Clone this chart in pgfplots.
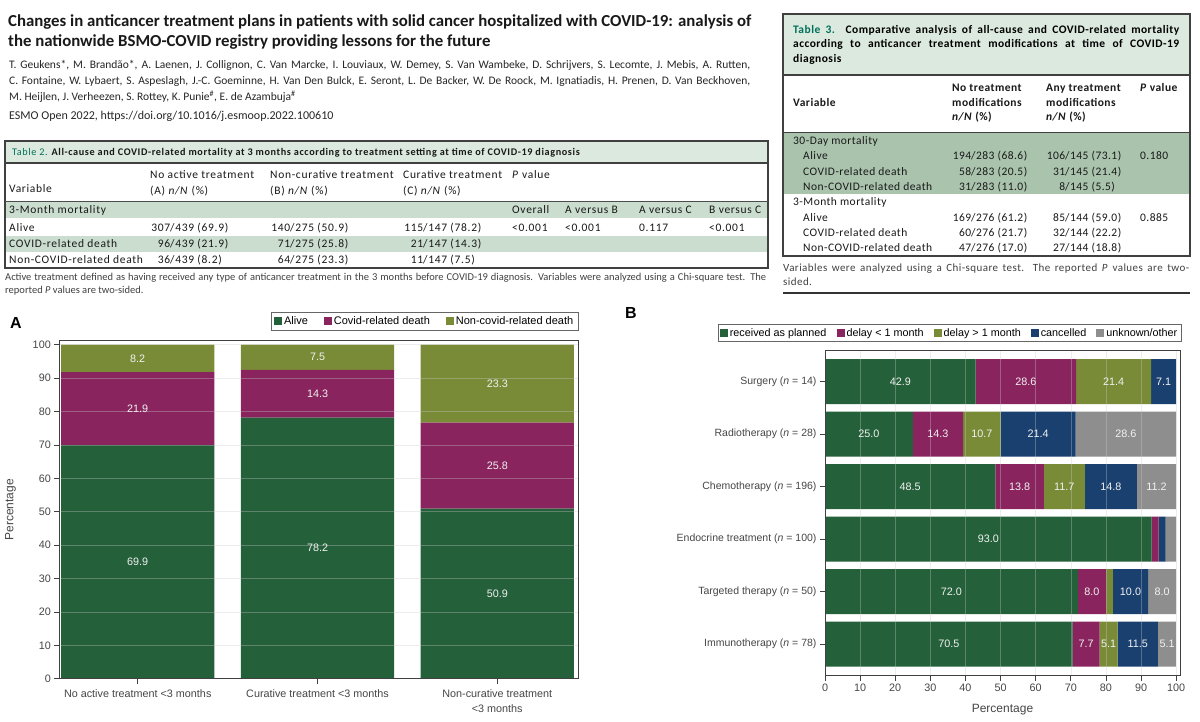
\documentclass[border=0pt]{standalone}
\usepackage{pgfplots}
\pgfplotsset{compat=1.18}
\usepackage{pgfplotstable}
\usepackage{fontspec}
\setmainfont{Carlito}
\newfontfamily\arial{Liberation Sans}
\newfontfamily\tabfont[LetterSpace=6]{Carlito}
\newfontfamily\tabfontb[LetterSpace=4]{Carlito}

\definecolor{cGreen}{RGB}{36,96,58}
\definecolor{cMaroon}{RGB}{137,36,94}
\definecolor{cOlive}{RGB}{122,139,56}
\definecolor{cNavy}{RGB}{26,64,112}
\definecolor{cGray}{RGB}{142,142,142}
\definecolor{tabHead}{RGB}{220,233,222}
\definecolor{tabBand}{RGB}{202,221,206}
\definecolor{tabBandDark}{RGB}{170,195,173}
\definecolor{tabTeal}{RGB}{0,112,92}
\definecolor{tickGray}{RGB}{70,70,70}

\newcommand\fs[1]{\fontsize{#1}{#1}\selectfont}
% text at (x, baseline y) in pixels
\newcommand\tx[3]{\node[anchor=base west, inner sep=0pt] at (#1pt,-#2pt) {#3};}
% value aligned on its slash at x
\newcommand\sv[4]{\node[anchor=base west, inner sep=0pt] at (#1pt,-#2pt) {\llap{#3}/#4};}

% ---- data, panel A ----
\pgfplotstableread{
x alive covid noncovid
0 69.9 21.9 8.2
1 78.2 14.3 7.5
2 50.9 25.8 23.3
}\mortA

\pgfplotstableread{
x y lbl
0 34.95 69.9
0 80.85 21.9
0 95.90 8.2
1 39.10 78.2
1 85.35 14.3
1 96.25 7.5
2 25.45 50.9
2 63.80 25.8
2 88.35 23.3
}\labelsA

% ---- data, panel B ----
\pgfplotstableread{
y planned lt1 gt1 cancelled unknown
0 42.9 28.6 21.4 7.1 0
1 25.0 14.3 10.7 21.4 28.6
2 48.5 13.8 11.7 14.8 11.2
3 93.0 2.0 0 2.0 3.0
4 72.0 8.0 2.0 10.0 8.0
5 70.5 7.7 5.1 11.5 5.1
}\treatB

\pgfplotstableread{
x y lbl
21.45 0 42.9
57.20 0 28.6
82.20 0 21.4
96.45 0 7.1
12.50 1 25.0
32.15 1 14.3
44.65 1 10.7
60.70 1 21.4
85.70 1 28.6
24.25 2 48.5
55.40 2 13.8
68.15 2 11.7
81.40 2 14.8
94.40 2 11.2
46.50 3 93.0
36.00 4 72.0
76.00 4 8.0
87.00 4 10.0
96.00 4 8.0
35.25 5 70.5
74.35 5 7.7
80.75 5 5.1
89.05 5 11.5
97.40 5 5.1
}\labelsB

\pgfplotsset{
  chartA/.style={
    scale only axis, width=518.7pt, height=338pt,
    xmin=-0.4363, xmax=2.449, ymin=0, ymax=101.2,
    at={(59.3pt,-678.7pt)}, anchor=south west,
  },
  chartB/.style={
    scale only axis, width=355pt, height=325.5pt,
    xmin=0, xmax=101.1, ymin=-0.6, ymax=5.6, y dir=reverse,
    at={(825pt,-675.7pt)}, anchor=south west,
  },
  barlabels/.style={
    draw=none, mark=none, nodes near coords, point meta=explicit symbolic,
    nodes near coords align=center,
    nodes near coords style={text=white!95!black, font=\arial\fs{10.8}, inner sep=0pt},
  },
}

\begin{document}
\begin{tikzpicture}
\useasboundingbox (0pt,0pt) rectangle (1200pt,-722pt);
\fill[white] (0pt,0pt) rectangle (1200pt,-722pt);

% ---- title and authors ----
\begin{scope}[every node/.style={font=\bfseries\fs{16.8}, text=black!90}]
\tx{8}{27}{Changes in anticancer treatment plans in patients with solid cancer hospitalized with COVID-19: analysis of}
\tx{8}{47}{the nationwide BSMO-COVID registry providing lessons for the future}
\end{scope}
\begin{scope}[every node/.style={font=\fs{11.5}, text=black!85}]
\tx{9}{69}{\makebox[741pt][s]{T. Geukens*, M. Brandão*, A. Laenen, J. Collignon, C. Van Marcke, I. Louviaux, W. Demey, S. Van Wambeke, D. Schrijvers, S. Lecomte, J. Mebis, A. Rutten,}}
\tx{9}{85}{\makebox[741pt][s]{C. Fontaine, W. Lybaert, S. Aspeslagh, J.-C. Goeminne, H. Van Den Bulck, E. Seront, L. De Backer, W. De Roock, M. Ignatiadis, H. Prenen, D. Van Beckhoven,}}
\tx{9}{101}{M. Heijlen, J. Verheezen, S. Rottey, K. Punie\textsuperscript{\#}, E. de Azambuja\textsuperscript{\#}}
\end{scope}
\node[anchor=base west, inner sep=0pt, font=\fs{12}, text=black!85] at (9pt,-120pt) {ESMO Open 2022, https://doi.org/10.1016/j.esmoop.2022.100610};

% ---- Table 2 ----
\fill[tabHead] (5pt,-141pt) rectangle (768pt,-163pt);
\fill[tabBand] (5pt,-202pt) rectangle (768pt,-218pt);
\fill[tabBand] (5pt,-236pt) rectangle (768pt,-252pt);
\draw[black!75, line width=1.3pt] (5pt,-141pt) rectangle (768pt,-268pt);
\draw[black!75, line width=1.1pt] (5pt,-163pt) -- (768pt,-163pt);
\draw[black!70, line width=0.8pt] (5pt,-201.5pt) -- (768pt,-201.5pt);
\node[anchor=base west, inner sep=0pt, font=\tabfont\fs{10.2}, text=black!90] at (12pt,-156pt)
  {\textcolor{tabTeal}{Table 2.} \textbf{All-cause and COVID-related mortality at 3 months according to treatment setting at time of COVID-19 diagnosis}};
\begin{scope}[every node/.style={font=\tabfont\fs{11.5}, text=black!90}]
\tx{9}{193}{Variable}
\tx{150}{179}{No active treatment}
\tx{150}{195}{(A) \textit{n/N} (\%)}
\tx{270}{179}{Non-curative treatment}
\tx{270}{195}{(B) \textit{n/N} (\%)}
\tx{403}{179}{Curative treatment}
\tx{403}{195}{(C) \textit{n/N} (\%)}
\tx{512}{179}{\textit{P} value}
\tx{9}{214}{3-Month mortality}
\tx{512}{214}{Overall}
\tx{565}{214}{A versus B}
\tx{639}{214}{A versus C}
\tx{709}{214}{B versus C}
\tx{9}{232}{Alive}
\sv{170}{232}{307}{439 (69.9)}
\sv{290}{232}{140}{275 (50.9)}
\sv{423}{232}{115}{147 (78.2)}
\tx{512}{232}{<0.001}
\tx{565}{232}{<0.001}
\tx{639}{232}{0.117}
\tx{709}{232}{<0.001}
\tx{9}{248}{COVID-related death}
\sv{170}{248}{96}{439 (21.9)}
\sv{290}{248}{71}{275 (25.8)}
\sv{423}{248}{21}{147 (14.3)}
\tx{9}{264}{Non-COVID-related death}
\sv{170}{264}{36}{439 (8.2)}
\sv{290}{264}{64}{275 (23.3)}
\sv{423}{264}{11}{147 (7.5)}
\end{scope}
\begin{scope}[every node/.style={font=\fs{10.5}, text=black!75}]
\tx{5}{280}{\makebox[761pt][s]{Active treatment defined as having received any type of anticancer treatment in the 3 months before COVID-19 diagnosis. Variables were analyzed using a Chi-square test. The}}
\tx{5}{294}{reported \textit{P} values are two-sided.}
\end{scope}

% ---- Table 3 ----
\fill[tabHead] (783pt,-14pt) rectangle (1190pt,-75pt);
\fill[tabBandDark] (783pt,-133pt) rectangle (1190pt,-194pt);
\draw[black!75, line width=1.3pt] (783pt,-14pt) rectangle (1190pt,-256pt);
\draw[black!75, line width=1.1pt] (783pt,-75pt) -- (1190pt,-75pt);
\draw[black!75, line width=1pt] (783pt,-132.5pt) -- (1190pt,-132.5pt);
\draw[black!80, line width=1.3pt] (783pt,-293pt) -- (1190pt,-293pt);
\node[anchor=north west, inner sep=0pt, text width=386pt, align=justify, font=\tabfontb\bfseries\fontsize{11.5}{14.5}\selectfont] at (793pt,-25pt)
  {\textcolor{tabTeal}{Table 3.} Comparative analysis of all-cause and COVID-related mortality\linebreak according to anticancer treatment modifications at time of COVID-19\linebreak diagnosis};
\begin{scope}[every node/.style={font=\tabfontb\bfseries\fs{11.5}, text=black!90}]
\tx{793}{107}{Variable}
\tx{952}{92}{No treatment}
\tx{952}{107}{modifications}
\tx{952}{121}{\textit{n/N} (\%)}
\tx{1046}{92}{Any treatment}
\tx{1046}{107}{modifications}
\tx{1046}{121}{\textit{n/N} (\%)}
\tx{1140}{92}{\textit{P} value}
\end{scope}
\begin{scope}[every node/.style={font=\tabfontb\fs{11.5}, text=black!90}]
\tx{793}{145}{30-Day mortality}
\tx{803}{160}{Alive}
\tx{803}{176}{COVID-related death}
\tx{803}{191}{Non-COVID-related death}
\sv{971}{160}{194}{283 (68.6)}
\sv{971}{176}{58}{283 (20.5)}
\sv{971}{191}{31}{283 (11.0)}
\sv{1065}{160}{106}{145 (73.1)}
\sv{1065}{176}{31}{145 (21.4)}
\sv{1065}{191}{8}{145 (5.5)}
\tx{1140}{160}{0.180}
\tx{793}{206}{3-Month mortality}
\tx{803}{222}{Alive}
\tx{803}{237}{COVID-related death}
\tx{803}{252}{Non-COVID-related death}
\sv{971}{222}{169}{276 (61.2)}
\sv{971}{237}{60}{276 (21.7)}
\sv{971}{252}{47}{276 (17.0)}
\sv{1065}{222}{85}{144 (59.0)}
\sv{1065}{237}{32}{144 (22.2)}
\sv{1065}{252}{27}{144 (18.8)}
\tx{1140}{222}{0.885}
\end{scope}
\begin{scope}[every node/.style={font=\tabfontb\fs{11}, text=black!75}]
\tx{783}{272}{\makebox[406pt][s]{Variables were analyzed using a Chi-square test. The reported \textit{P} values are two-}}
\tx{783}{286}{sided.}
\end{scope}

% ---- panel letters ----
\node[anchor=base west, inner sep=0pt, font=\arial\bfseries\fs{16}] at (10pt,-328pt) {A};
\node[anchor=base west, inner sep=0pt, font=\arial\bfseries\fs{16}] at (625pt,-318pt) {B};

% ---- Panel A ----
\begin{axis}[chartA,
  ybar stacked, bar width=0.853,
  axis on top,
  xtick={0,1,2},
  xticklabels={No active treatment <3 months, Curative treatment <3 months, {Non-curative treatment\\<3 months}},
  xticklabel style={align=center, font=\arial\fontsize{10.8}{15}\selectfont, text=tickGray, yshift=-2pt},
  ytick={0,10,...,100},
  yticklabel style={font=\arial\fs{10.8}, text=tickGray},
  /pgf/number format/assume math mode=true,
  tick align=outside, tick pos=left, major tick length=5pt,
  tick style={black!75, line width=0.8pt},
  axis line style={black!75, line width=0.8pt},
  ymajorgrids, grid style={white!80!black, opacity=0.35, line width=0.5pt},
  ylabel={Percentage},
  ylabel style={font=\arial\fs{12}, text=tickGray, at={(axis description cs:-0.094,0.5)}, anchor=center},
  legend style={at={(1,1)}, anchor=south east, yshift=10pt, legend columns=-1,
    font=\arial\fs{11}, draw=black!60, inner sep=2.5pt,
    /tikz/every even column/.append style={column sep=14pt}},
  legend image code/.code={\fill[#1] (0pt,-4pt) rectangle (8pt,4pt);},
]
\addplot[fill=cGreen, draw=none] table[x=x, y=alive] {\mortA};
\addplot[fill=cMaroon, draw=none] table[x=x, y=covid] {\mortA};
\addplot[fill=cOlive, draw=none] table[x=x, y=noncovid] {\mortA};
\legend{Alive, Covid-related death, Non-covid-related death}
\end{axis}
\begin{axis}[chartA, hide axis]
\addplot[barlabels] table[x=x, y=y, meta=lbl] {\labelsA};
\end{axis}

% ---- Panel B ----
\begin{axis}[chartB,
  xbar stacked, bar width=0.857,
  axis on top,
  ytick={0,1,2,3,4,5},
  yticklabels={Surgery (\textit{n} = 14), Radiotherapy (\textit{n} = 28), Chemotherapy (\textit{n} = 196), Endocrine treatment (\textit{n} = 100), Targeted therapy (\textit{n} = 50), Immunotherapy (\textit{n} = 78)},
  yticklabel style={font=\arial\fs{10.5}, text=tickGray},
  xtick={0,10,...,100},
  xticklabel style={font=\arial\fs{10.8}, text=tickGray},
  /pgf/number format/assume math mode=true,
  tick align=outside, tick pos=left, major tick length=5pt,
  tick style={black!75, line width=0.8pt},
  axis line style={black!75, line width=0.8pt},
  xmajorgrids, grid style={white!80!black, opacity=0.35, line width=0.5pt},
  xlabel={Percentage},
  xlabel style={font=\arial\fs{12}, text=tickGray, at={(axis description cs:0.5,-0.105)}, anchor=center},
  legend style={at={(1,1)}, anchor=south east, xshift=1pt, yshift=9pt, legend columns=-1,
    font=\arial\fs{10.8}, draw=black!60, inner sep=1.5pt,
    /tikz/every even column/.append style={column sep=8pt}},
  legend image code/.code={\fill[#1] (0pt,-4pt) rectangle (8pt,4pt);},
]
\addplot[fill=cGreen, draw=none] table[x=planned, y=y] {\treatB};
\addplot[fill=cMaroon, draw=none] table[x=lt1, y=y] {\treatB};
\addplot[fill=cOlive, draw=none] table[x=gt1, y=y] {\treatB};
\addplot[fill=cNavy, draw=none] table[x=cancelled, y=y] {\treatB};
\addplot[fill=cGray, draw=none] table[x=unknown, y=y] {\treatB};
\legend{received as planned, delay < 1 month, delay > 1 month, cancelled, unknown/other}
\end{axis}
\begin{axis}[chartB, hide axis]
\addplot[barlabels] table[x=x, y=y, meta=lbl] {\labelsB};
\end{axis}
\end{tikzpicture}
\end{document}
